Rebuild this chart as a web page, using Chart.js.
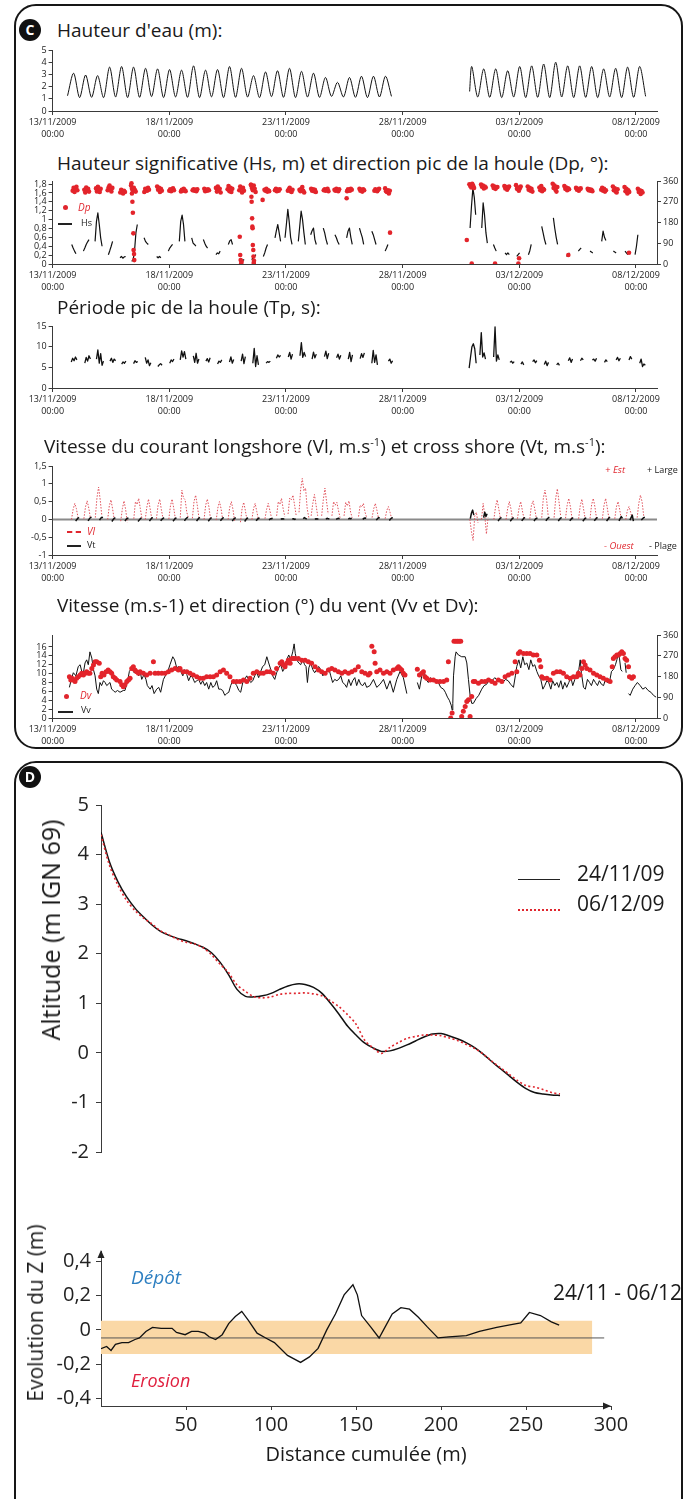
<!DOCTYPE html>
<html lang="fr">
<head>
<meta charset="UTF-8">
<title>Houle, courants, vent et évolution du profil</title>
<script src="https://cdn.jsdelivr.net/npm/chart.js"></script>
<style>
  body { margin: 0; background: #fff; }
  #page { position: relative; width: 683px; height: 1499px; overflow: hidden; font-family: 'Open Sans', 'DejaVu Sans', sans-serif; color: #1a1a1a; }
  .panel { position: absolute; box-sizing: border-box; border: 2px solid #161616; border-radius: 22px; }
  .badge { position: absolute; width: 22px; height: 22px; margin: -11px 0 0 -11px; border-radius: 50%; background: #111; color: #fff; font-weight: 700; font-size: 14px; line-height: 22px; text-align: center; }
  .t { position: absolute; white-space: nowrap; }
  .ttl { font-size: 19px; line-height: 22px; }
  .ttl sup { font-size: 11px; line-height: 0; }
  .red { color: #e0262e; font-style: italic; }
  .small { font-size: 9px; line-height: 12px; }
  .key-dot { position: absolute; width: 5px; height: 5px; border-radius: 50%; background: #e0262e; }
  .key-line { position: absolute; height: 0; border-top: 2px solid #222; }
  .rot { position: absolute; white-space: nowrap; transform: translate(-50%, -50%) rotate(-90deg); }
  .mid { position: absolute; white-space: nowrap; transform: translate(-50%, -50%); }
  canvas { position: absolute; left: 0; }
</style>
</head>
<body>
<div id="page">
  <div class="panel" style="left:14px;top:4px;width:669px;height:745px"></div>
  <div class="badge" style="left:30px;top:30px">C</div>

  <div class="t ttl" style="left:57px;top:19px">Hauteur d'eau (m):</div>
  <canvas id="tide" width="683" height="107" style="top:40px"></canvas>

  <div class="t ttl" style="left:57px;top:152px">Hauteur significative (Hs, m) et direction pic de la houle (Dp, °):</div>
  <canvas id="wave" width="683" height="129" style="top:171px"></canvas>
  <div class="key-dot" style="left:63px;top:205px"></div>
  <div class="t red" style="left:78px;top:201px;font-size:10px;line-height:12px">Dp</div>
  <div class="key-line" style="left:58px;top:223px;width:14px"></div>
  <div class="t small" style="left:81px;top:217px">Hs</div>

  <div class="t ttl" style="left:57px;top:296px">Période pic de la houle (Tp, s):</div>
  <canvas id="period" width="683" height="108" style="top:316px"></canvas>

  <div class="t ttl" style="left:44px;top:435px">Vitesse du courant longshore (Vl, m.s<sup>-1</sup>) et cross shore (Vt, m.s<sup>-1</sup>):</div>
  <canvas id="current" width="683" height="135" style="top:456px"></canvas>
  <div class="key-line" style="left:67px;top:531px;width:14px;border-top:2px dashed #e0262e"></div>
  <div class="t red" style="left:87px;top:525px;font-size:10px;line-height:12px">Vl</div>
  <div class="key-line" style="left:67px;top:545px;width:14px"></div>
  <div class="t small" style="left:87px;top:539px">Vt</div>
  <div class="t red" style="left:605px;top:464px;font-size:9.5px;line-height:12px">+ Est</div>
  <div class="t small" style="left:647px;top:464px">+ Large</div>
  <div class="t red" style="left:604px;top:540px;font-size:9.5px;line-height:12px">- Ouest</div>
  <div class="t small" style="left:649px;top:540px">- Plage</div>

  <div class="t ttl" style="left:57px;top:594px">Vitesse (m.s-1) et direction (°) du vent (Vv et Dv):</div>
  <canvas id="wind" width="683" height="129" style="top:625px"></canvas>
  <div class="key-dot" style="left:64px;top:694px"></div>
  <div class="t red" style="left:80px;top:689px;font-size:10px;line-height:12px">Dv</div>
  <div class="key-line" style="left:58px;top:711px;width:15px"></div>
  <div class="t small" style="left:81px;top:704px">Vv</div>

  <div class="panel" style="left:14px;top:761px;width:669px;height:800px"></div>
  <div class="badge" style="left:30px;top:777px">D</div>

  <canvas id="profile" width="683" height="385" style="top:786px"></canvas>
  <div class="rot" style="left:50px;top:930px;font-size:25px">Altitude (m IGN 69)</div>
  <div class="key-line" style="left:518px;top:879px;width:42px;border-top-width:1.5px"></div>
  <div class="t" style="left:577px;top:860px;font-size:21px;line-height:26px">24/11/09</div>
  <div class="key-line" style="left:518px;top:909px;width:42px;border-top:2px dotted #e0262e"></div>
  <div class="t" style="left:577px;top:890px;font-size:21px;line-height:26px">06/12/09</div>

  <canvas id="evolution" width="683" height="212" style="top:1234px"></canvas>
  <div class="rot" style="left:35px;top:1313px;font-size:21px">Evolution du Z (m)</div>
  <div class="mid" style="left:366px;top:1453px;font-size:20px">Distance cumulée (m)</div>
  <div class="t" style="left:553px;top:1279px;font-size:21px;line-height:26px">24/11 - 06/12</div>
  <div class="t" style="left:131px;top:1265px;font-size:19px;line-height:24px;font-style:italic;color:#2d7fc1">Dépôt</div>
  <div class="t" style="left:131px;top:1368px;font-size:18px;line-height:24px;font-style:italic;color:#e0203f">Erosion</div>
</div>

<script>
// ---- time axis: days since 13/11/2009 00:00 ----
const dateTickDays = [0, 5, 10, 15, 20, 25];
const dateTicks = ['13/11/2009', '18/11/2009', '23/11/2009', '28/11/2009', '03/12/2009', '08/12/2009'];
const dayMax = 25.9;

// ---- water height: one peak per high tide, lows between ----
const tidePeriod = 0.514;
const tideFirstA = [0.64, 1.25];
const tidePeakStartA = 0.9;
const tidePeaksA = [3.1, 2.95, 2.9, 3.6, 3.65, 3.6, 3.5, 3.45, 3.4, 3.35, 3.7, 3.35, 3.4, 3.65, 3.5, 2.9, 3.2, 3.3, 3.5, 3.25, 3.1, 2.75, 2.35, 2.75, 2.85, 2.85, 2.85];
const tideLowsA = [1.1, 1.12, 1.1, 1.15, 1.1, 1.12, 1.18, 1.1, 1.15, 1.12, 1.1, 1.16, 1.1, 1.12, 1.15, 1.1, 1.18, 1.12, 1.1, 1.15, 1.12, 1.2, 1.15, 1.12, 1.1, 1.15, 1.2];
const tideFirstB = [17.87, 1.6];
const tidePeakStartB = 17.96;
const tidePeaksB = [3.65, 3.45, 3.45, 3.3, 3.65, 3.7, 3.85, 4.0, 3.7, 3.7, 3.65, 3.45, 3.5, 3.6, 3.65];
const tideLowsB = [1.15, 1.12, 1.1, 1.15, 1.1, 1.12, 1.1, 1.15, 1.1, 1.12, 1.1, 1.15, 1.1, 1.12, 1.2];
const tideTicks = [0, 1, 2, 3, 4, 5];

// ---- significant wave height (bursts around high tide) ----
const burstStep = 0.06;
const hsStarts = [0.82, 1.32, 1.82, 2.39, 2.89, 3.39, 3.92, 4.46, 4.96, 5.43, 5.96, 6.46, 7.0, 7.53, 8.03, 8.53, 9.03, 9.53, 9.96, 10.53, 11.06, 11.6, 12.1, 12.6, 13.15, 13.68, 14.25,
  17.89, 18.39, 18.89, 19.39, 19.89, 20.39, 20.96, 21.46, 22.03, 22.53, 23.03, 23.53, 24.03, 24.53, 24.96];
const hsBursts = [
  [0.44, 0.36, 0.29, 0.23], [0.29, 0.36, 0.44, 0.5, 0.55], [0.51, 0.96, 1.15, 0.89, 0.59, 0.4], [0.21, 0.3, 0.4, 0.51],
  [0.14, 0.17, 0.13, 0.16, 0.17], [0.06, 0.1, 0.29, 0.7, 0.89], [0.59, 0.51, 0.47, 0.44], [0.17, 0.14, 0.17, 0.14],
  [0.29, 0.36, 0.4, 0.44], [0.51, 0.96, 1.1, 0.89, 0.51], [0.59, 0.47, 0.44, 0.4], [0.55, 0.47, 0.4, 0.36],
  [0.21, 0.25, 0.23, 0.29], [0.44, 0.52, 0.55, 0.44], [0.06, 0.1, 0.08, 0.1], [0.1, 0.14, 0.17, 0.21],
  [0.17, 0.25, 0.36, 0.44], [0.59, 0.75, 0.89, 0.7, 0.51], [0.59, 0.9, 1.23, 0.95, 0.6, 0.44], [0.51, 0.85, 1.19, 1.0, 0.7, 0.44],
  [0.66, 0.75, 0.81, 0.55, 0.44], [0.81, 0.7, 0.55, 0.44], [0.66, 0.59, 0.5, 0.44], [0.59, 0.74, 0.81, 0.6, 0.44],
  [0.81, 0.7, 0.6, 0.44], [0.74, 0.66, 0.55, 0.44], [0.29, 0.36, 0.44],
  [0.81, 1.3, 1.71, 1.5, 1.11], [0.81, 1.38, 1.1, 0.7, 0.47], [0.44, 0.36, 0.29], [0.25, 0.21, 0.25, 0.21],
  [0.17, 0.21, 0.25], [0.21, 0.3, 0.44], [0.85, 0.7, 0.55, 0.44], [1.04, 0.8, 0.6, 0.44],
  [0.17, 0.22, 0.25], [0.29, 0.33, 0.36], [0.29, 0.27, 0.25], [0.51, 0.74, 0.6, 0.53],
  [0.29, 0.27, 0.25], [0.29, 0.25, 0.21], [0.21, 0.4, 0.66]
];
const hsTicks = [0, 0.2, 0.4, 0.6, 0.8, 1, 1.2, 1.4, 1.6, 1.8];

// ---- peak wave direction: a cluster of records per high tide, plus stray values ----
const dpCenters = [0.96, 1.46, 1.96, 2.46, 3.0, 3.46, 4.03, 4.58, 5.1, 5.6, 6.1, 6.6, 7.1, 7.6, 8.1, 8.6, 9.18, 9.63, 10.18, 10.68, 11.18, 11.72, 12.18, 12.72, 13.25, 13.89, 14.35,
  17.96, 18.46, 18.96, 19.46, 19.96, 20.46, 20.96, 21.53, 22.03, 22.53, 23.03, 23.61, 24.11, 24.61, 25.18];
const dpClusters = [
  [318, 330, 312, 325, 335, 320], [322, 310, 332, 318, 326, 314], [328, 315, 335, 320, 312, 326], [320, 332, 340, 325, 315, 330],
  [310, 322, 316, 306, 318, 312], [340, 326, 318, 330, 322, 314], [312, 326, 320, 318, 330, 322], [336, 322, 330, 312, 326, 318],
  [318, 324, 316, 322, 328, 320], [315, 322, 318, 326, 320, 316], [320, 324, 318, 322, 316, 324], [326, 316, 322, 318, 324, 320],
  [330, 314, 336, 320, 326, 310], [324, 338, 316, 330, 312, 326], [320, 336, 328, 310, 330, 318], [344, 330, 320, 340, 326, 312],
  [322, 318, 326, 314, 320, 316], [320, 326, 316, 322, 318, 324], [318, 324, 330, 316, 312, 322], [322, 316, 326, 334, 318, 310],
  [326, 318, 324, 316, 322, 312], [320, 324, 318, 322, 326, 316], [322, 318, 326, 320, 316, 324], [316, 324, 320, 318, 326, 322],
  [326, 318, 322, 314, 324, 320], [318, 324, 320, 316, 322, 326], [328, 316, 312, 320, 306, 318],
  [346, 338, 332, 348, 340, 330], [345, 335, 340, 328, 336, 332], [340, 330, 336, 326, 332, 334], [338, 328, 334, 322, 330, 336],
  [342, 326, 332, 318, 328, 336], [336, 322, 330, 318, 326, 314], [332, 320, 338, 316, 326, 322], [348, 330, 340, 322, 314, 334],
  [338, 326, 332, 320, 328, 324], [330, 322, 326, 318, 324, 328], [326, 320, 324, 318, 322, 316], [322, 330, 318, 326, 314, 320],
  [336, 320, 328, 314, 310, 324], [334, 316, 326, 306, 320, 312], [326, 312, 320, 304, 316, 310]
];
const dpStray = [[3.38, 350], [3.4, 306], [3.42, 270], [3.44, 222], [3.46, 133], [3.47, 61], [3.49, 43], [3.5, 17],
  [8.02, 118], [8.04, 39], [8.06, 17], [8.08, 2], [8.1, 10],
  [8.5, 343], [8.52, 292], [8.53, 270], [8.55, 198], [8.56, 162], [8.57, 155], [8.58, 82], [8.6, 61], [8.61, 32], [8.62, 5], [8.63, 14],
  [9.0, 278], [12.6, 285], [14.46, 136], [17.75, 104], [17.96, 2], [18.96, 2], [19.96, 2], [19.99, 25], [22.1, 39], [24.7, 49]];
const dirTicks = [0, 90, 180, 270, 360];

// ---- peak wave period ----
const tpStarts = [0.8, 1.38, 1.88, 2.46, 2.96, 3.47, 3.97, 4.51, 5.02, 5.47, 6.03, 6.57, 7.07, 7.58, 8.08, 8.58, 9.15, 9.59, 10.1, 10.6, 11.12, 11.65, 12.17, 12.67, 13.18, 13.68, 14.39,
  17.85, 18.31, 18.9, 19.6, 20.07, 20.57, 21.07, 21.6, 22.1, 22.62, 23.13, 23.65, 24.15, 24.7, 25.16];
const tpBursts = [
  [6.3, 7.2, 6.6, 7.5, 6.8], [6.0, 7.4, 6.5, 7.8, 7.0], [7.0, 9.2, 6.0, 8.3, 5.5, 6.5], [6.5, 7.2, 6.2, 7.0, 6.6],
  [5.8, 6.3, 6.0, 6.5], [5.9, 6.6, 6.2, 6.4], [7.4, 6.0, 6.8, 5.4, 6.1], [5.2, 5.6, 5.9, 5.5],
  [6.0, 6.8, 6.4, 7.0], [6.8, 9.0, 7.5, 8.8, 7.0], [7.8, 6.2, 8.4, 6.0, 7.0], [6.5, 7.1, 6.3, 7.3],
  [5.8, 6.5, 6.2, 6.8], [6.3, 7.5, 6.0, 6.9], [6.5, 8.2, 5.9, 7.6], [6.0, 9.6, 5.2, 7.8, 5.6],
  [6.0, 6.4, 6.2, 6.5], [7.2, 8.0, 7.5, 7.9], [7.5, 8.6, 7.0, 8.2], [7.8, 11.0, 7.4, 8.6, 7.6],
  [7.0, 8.7, 7.3, 8.2], [7.6, 8.9, 7.1, 8.4], [7.3, 8.2, 7.0, 7.9], [7.0, 8.6, 6.4, 8.0],
  [7.1, 8.3, 7.4, 8.5], [6.0, 9.1, 6.2, 8.0, 5.6], [6.5, 7.0, 6.0, 6.6],
  [4.8, 7.5, 10.0, 10.7, 9.5, 6.0], [8.0, 13.4, 7.5, 8.5, 7.0], [7.5, 14.8, 6.5, 8.0, 6.8], [6.2, 6.5, 6.0, 6.4],
  [5.8, 6.3, 5.6], [6.4, 6.8, 6.1, 6.6], [5.7, 6.5, 5.4, 6.2], [5.6, 6.0, 5.5],
  [6.6, 7.3, 6.2, 7.0], [6.6, 7.2, 6.8], [6.8, 7.0, 6.5, 7.2], [6.2, 6.8, 6.4],
  [6.8, 7.4, 6.6, 7.2], [6.8, 7.6, 7.0], [6.0, 7.0, 5.2, 5.8, 5.5]
];
const tpTicks = [0, 5, 10, 15];

// ---- longshore (Vl) and cross-shore (Vt) currents ----
const vlStep = 0.07;
const vlStarts = [0.81, 1.34, 1.83, 2.36, 2.92, 3.48, 3.97, 4.45, 4.98, 5.47, 5.99, 6.49, 7.01, 7.52, 8.05, 8.54, 9.1, 9.6, 10.09, 10.56, 11.08, 11.53, 11.97, 12.49, 13.11, 13.69, 14.25,
  17.88, 18.38, 18.91, 19.43, 19.92, 20.45, 20.96, 21.49, 21.98, 22.54, 23.03, 23.56, 24.09, 24.56, 25.05];
const vlBursts = [
  [0.0, 0.28, 0.45, 0.3, 0.05], [0.02, 0.35, 0.52, 0.32, 0.04], [0.05, 0.6, 0.91, 0.55, 0.1], [0.0, 0.38, 0.55, 0.3, 0.0],
  [-0.05, 0.3, 0.52, 0.28, -0.08], [0.02, 0.5, 0.42, 0.59, 0.3, 0.02], [0.0, 0.35, 0.57, 0.3, 0.02], [0.02, 0.4, 0.57, 0.28, 0.03],
  [0.01, 0.38, 0.57, 0.32, 0.02], [0.05, 0.82, 0.6, 0.55, 0.2, 0.04], [0.03, 0.5, 0.68, 0.4, 0.05], [0.0, 0.4, 0.57, 0.35, 0.0],
  [-0.02, 0.32, 0.5, 0.3, 0.0], [0.0, 0.34, 0.5, 0.28, -0.05], [-0.08, 0.3, 0.48, 0.25, -0.02], [0.0, 0.3, 0.45, 0.22, 0.0],
  [0.02, 0.28, 0.45, 0.25, 0.05], [0.1, 0.5, 0.42, 0.59, 0.3, 0.08], [0.15, 0.6, 0.55, 0.68, 0.4, 0.1], [0.2, 0.85, 1.15, 0.8, 0.88, 0.3, 0.05],
  [0.1, 0.45, 0.7, 0.4, 0.1], [0.1, 0.55, 0.88, 0.5, 0.15], [0.1, 0.5, 0.4, 0.48, 0.25, 0.05], [0.1, 0.48, 0.38, 0.52, 0.2, 0.05],
  [0.08, 0.4, 0.35, 0.45, 0.2, 0.05], [0.05, 0.3, 0.45, 0.25, 0.02], [0.02, 0.25, 0.36, 0.2, 0.02],
  [0.0, -0.35, -0.59, 0.1, 0.2, -0.1], [0.0, 0.45, 0.1, -0.41, 0.05], [0.0, 0.35, 0.55, 0.3, 0.02], [0.0, 0.3, 0.5, 0.3, 0.0],
  [0.02, 0.32, 0.5, 0.25, 0.02], [0.02, 0.4, 0.52, 0.3, 0.03], [0.05, 0.6, 0.82, 0.55, 0.08], [0.05, 0.6, 0.86, 0.5, 0.1],
  [0.03, 0.4, 0.59, 0.35, 0.02], [0.02, 0.38, 0.57, 0.3, 0.03], [0.03, 0.42, 0.59, 0.35, 0.02], [0.02, 0.4, 0.59, 0.32, 0.03],
  [0.02, 0.35, 0.5, 0.28, 0.0], [0.0, 0.25, 0.36, 0.2, 0.02], [0.05, 0.45, 0.68, 0.5, 0.1]
];
const vtStep = 0.05;
const vtStarts = [0.99, 1.52, 2.01, 2.54, 3.1, 3.66, 4.15, 4.63, 5.16, 5.65, 6.17, 6.67, 7.19, 7.7, 8.23, 8.72, 9.28, 9.78, 10.27, 10.74, 11.24, 11.71, 12.15, 12.67, 13.29, 13.87, 14.43,
  17.9, 18.47, 19.09, 19.61, 20.1, 20.63, 21.14, 21.67, 22.16, 22.72, 23.21, 23.74, 24.27, 24.74, 25.23];
const vtBursts = [
  [-0.05, 0.0, 0.04, 0.05], [-0.04, 0.01, 0.05, 0.06], [-0.02, 0.03, 0.06, 0.05], [-0.06, -0.01, 0.03, 0.05],
  [-0.05, 0.0, 0.03, 0.04], [-0.06, -0.02, 0.02, 0.04], [-0.05, 0.0, 0.04, 0.05], [-0.04, 0.0, 0.03, 0.05],
  [-0.05, -0.01, 0.03, 0.04], [-0.04, 0.01, 0.04, 0.06], [-0.05, 0.0, 0.04, 0.05], [-0.05, -0.01, 0.03, 0.05],
  [-0.04, 0.0, 0.04, 0.05], [-0.05, 0.0, 0.03, 0.05], [-0.06, -0.01, 0.03, 0.04], [-0.04, 0.0, 0.03, 0.04],
  [-0.02, 0.02, 0.02, 0.03], [0.0, 0.02, 0.01, 0.02], [0.01, 0.02, 0.0, 0.01], [0.02, 0.05, 0.03, 0.01],
  [0.0, 0.02, 0.01, 0.02], [0.01, 0.03, 0.02, 0.02], [0.0, 0.02, 0.03, 0.02], [0.01, 0.03, 0.02, 0.03],
  [0.0, 0.03, 0.04, 0.03], [-0.02, 0.02, 0.05, 0.04], [-0.03, 0.01, 0.04, 0.05],
  [0.02, 0.18, 0.26, 0.12], [0.05, 0.2, 0.08, 0.16], [-0.05, 0.0, 0.04, 0.05], [-0.05, -0.01, 0.03, 0.05],
  [-0.04, 0.0, 0.04, 0.05], [-0.05, 0.0, 0.03, 0.04], [-0.04, 0.01, 0.04, 0.06], [-0.05, 0.0, 0.04, 0.05],
  [-0.04, 0.0, 0.03, 0.05], [-0.05, -0.01, 0.03, 0.04], [-0.04, 0.0, 0.04, 0.05], [-0.05, 0.0, 0.04, 0.06],
  [-0.04, 0.02, 0.08, 0.03], [-0.02, 0.05, 0.12, -0.05], [-0.02, 0.02, 0.05, 0.06]
];
const curTicks = [-1, -0.5, 0, 0.5, 1, 1.5];

// ---- wind speed (Vv) and direction (Dv) ----
const windSpeed = [[0.72, 6.9], [0.82, 9.1], [0.89, 10.2], [1.0, 9.5], [1.1, 11.6], [1.18, 12.0], [1.25, 10.5], [1.32, 10.2], [1.39, 12.4], [1.46, 13.1], [1.53, 12.0], [1.6, 14.9], [1.68, 13.5], [1.75, 10.9], [1.82, 9.5], [1.89, 6.5], [1.96, 5.5], [2.03, 8.0], [2.1, 7.3], [2.18, 8.4], [2.25, 8.0], [2.32, 7.3], [2.46, 8.0], [2.53, 6.5], [2.6, 6.2], [2.68, 5.8], [2.78, 6.2], [2.89, 5.8], [3.03, 6.2], [3.1, 6.2],
  [3.2, 8.0], [3.29, 10.5], [3.39, 11.3], [3.49, 10.2], [3.6, 10.5], [3.69, 9.5], [3.75, 10.5], [3.82, 8.7], [3.92, 9.8], [4.0, 8.7], [4.06, 7.3], [4.18, 6.5], [4.26, 7.3], [4.35, 5.5], [4.46, 6.5], [4.55, 6.9], [4.63, 5.8], [4.75, 8.7], [4.83, 9.5], [4.92, 10.2], [5.03, 12.0], [5.15, 13.8], [5.23, 13.1], [5.32, 11.3], [5.4, 11.6], [5.49, 10.5], [5.58, 9.5], [5.66, 10.9], [5.75, 9.8], [5.83, 8.4],
  [5.92, 9.5], [6.0, 9.1], [6.09, 8.0], [6.18, 8.4], [6.26, 8.7], [6.35, 7.6], [6.43, 8.4], [6.52, 7.3], [6.6, 8.0], [6.69, 6.5], [6.78, 8.0], [6.86, 6.9], [6.95, 7.3], [7.03, 8.4], [7.12, 6.5], [7.2, 6.5], [7.29, 6.2], [7.38, 5.1], [7.46, 5.5], [7.55, 5.8], [7.63, 7.3], [7.72, 8.4], [7.8, 8.0], [7.89, 7.3], [7.98, 6.2], [8.06, 5.8], [8.15, 8.0], [8.23, 8.7], [8.32, 9.5], [8.4, 8.7],
  [8.49, 8.0], [8.58, 8.4], [8.66, 9.5], [8.75, 10.2], [8.83, 9.1], [8.92, 10.5], [9.0, 11.6], [9.09, 12.0], [9.18, 13.8], [9.26, 12.4], [9.35, 10.9], [9.43, 9.5], [9.52, 8.7], [9.6, 10.2], [9.69, 11.3], [9.78, 12.0], [9.86, 10.5], [9.95, 11.3], [10.03, 13.1], [10.12, 14.2], [10.2, 13.1], [10.29, 14.9], [10.35, 16.7], [10.4, 14.5], [10.46, 13.1], [10.55, 12.4], [10.63, 12.0], [10.72, 13.1], [10.8, 12.0], [10.86, 11.6],
  [10.92, 8.0], [10.98, 11.3], [11.06, 12.4], [11.15, 10.9], [11.23, 10.2], [11.32, 10.9], [11.4, 11.6], [11.49, 10.9], [11.58, 9.5], [11.66, 10.2], [11.75, 10.5], [11.83, 11.3], [11.92, 9.5], [12.0, 8.0], [12.09, 8.7], [12.18, 8.4], [12.26, 8.7], [12.35, 9.5], [12.43, 8.0], [12.52, 7.6], [12.6, 6.9], [12.69, 8.7], [12.78, 7.3], [12.86, 8.4], [12.95, 9.1], [13.03, 7.3], [13.12, 8.7], [13.2, 7.6], [13.29, 7.3], [13.38, 8.0],
  [13.46, 6.9], [13.6, 7.3], [13.75, 8.7], [13.89, 6.9], [14.03, 7.6], [14.18, 8.7], [14.32, 6.5], [14.46, 8.4], [14.6, 5.8], [14.75, 8.7], [14.89, 10.5], [15.03, 9.1], [15.18, 5.5], [15.4, null], [15.63, 8.0], [15.72, 6.5], [15.82, 9.5], [15.92, 10.5], [16.0, 8.7], [16.1, 8.0], [16.2, 9.1], [16.32, 8.4], [16.43, 8.7], [16.53, 8.0], [16.63, 6.9], [16.75, 6.5], [16.83, 5.8], [16.92, 4.7], [17.0, 4.0], [17.08, 2.9],
  [17.12, 1.8], [17.15, 3.3], [17.18, 9.5], [17.25, 13.8], [17.29, 14.9], [17.39, 14.2], [17.53, 13.8], [17.68, 13.8], [17.75, 12.4], [17.82, 8.7], [17.89, 5.1], [17.96, 3.3], [18.03, 3.3], [18.15, 4.4], [18.26, 5.1], [18.39, 6.5], [18.49, 7.3], [18.6, 7.6], [18.72, 8.7], [18.83, 8.4], [18.95, 9.1], [19.06, 8.4], [19.18, 8.7], [19.29, 8.0], [19.41, 8.7], [19.52, 8.4], [19.63, 7.6], [19.75, 6.9], [19.83, 9.5], [19.89, 11.6],
  [19.98, 13.1], [20.06, 11.3], [20.15, 13.8], [20.23, 12.0], [20.32, 12.4], [20.41, 10.9], [20.49, 13.1], [20.58, 11.6], [20.66, 12.0], [20.75, 10.5], [20.83, 9.5], [20.92, 8.7], [21.01, 6.5], [21.09, 7.3], [21.18, 8.4], [21.26, 8.0], [21.35, 6.5], [21.43, 8.4], [21.52, 7.3], [21.61, 8.0], [21.69, 6.9], [21.78, 8.4], [21.86, 6.5], [21.95, 8.0], [22.03, 6.9], [22.12, 8.0], [22.21, 9.1], [22.29, 7.3], [22.38, 8.7], [22.46, 10.2],
  [22.55, 10.9], [22.61, 13.1], [22.66, 10.2], [22.75, 6.9], [22.83, 6.5], [22.92, 8.7], [23.01, 8.0], [23.09, 7.3], [23.18, 8.7], [23.26, 8.0], [23.35, 7.3], [23.43, 8.4], [23.52, 7.6], [23.61, 7.3], [23.69, 8.7], [23.78, 8.0], [23.86, 8.0], [23.95, 10.5], [24.03, 10.9], [24.12, 12.0], [24.18, 13.1], [24.24, 14.5], [24.29, 13.5], [24.35, 10.9], [24.41, 10.5], [24.47, null], [24.53, 12.4], [24.58, 10.2], [24.62, null], [24.68, 5.5],
  [24.75, 5.1], [24.86, 6.5], [24.96, 7.3], [25.06, 8.0], [25.18, 7.3], [25.29, 6.5], [25.41, 6.9], [25.52, 6.2], [25.64, 5.8], [25.75, 5.1], [25.86, 4.7]];
const windDir = [[0.72, 179], [0.78, 165], [0.83, 172], [0.89, 165], [0.96, 158], [1.03, 172], [1.1, 179], [1.18, 187], [1.25, 194], [1.32, 187], [1.39, 194], [1.46, 201], [1.53, 194], [1.6, 194], [1.68, 215], [1.75, 230], [1.82, 244], [1.89, 244], [2.0, 237], [2.06, 179], [2.12, 194], [2.2, 187], [2.29, 201], [2.38, 208], [2.46, 201], [2.53, 194], [2.6, 179], [2.68, 172], [2.75, 165], [2.89, 158],
  [2.96, 144], [3.03, 136], [3.1, 144], [3.18, 158], [3.25, 165], [3.32, 172], [3.39, 215], [3.46, 222], [3.53, 208], [3.6, 201], [3.68, 194], [3.75, 201], [3.89, 194], [4.03, 187], [4.18, 194], [4.32, 244], [4.39, 194], [4.53, 194], [4.68, 194], [4.82, 194], [4.96, 201], [5.1, 208], [5.25, 215], [5.39, 208], [5.46, 215], [5.6, 201], [5.75, 201], [5.89, 194], [6.03, 187], [6.18, 179],
  [6.32, 172], [6.46, 172], [6.6, 179], [6.75, 179], [6.89, 179], [7.03, 187], [7.18, 201], [7.32, 208], [7.46, 194], [7.6, 179], [7.75, 158], [7.89, 158], [8.03, 158], [8.18, 165], [8.32, 158], [8.46, 172], [8.6, 194], [8.75, 201], [8.89, 194], [9.03, 194], [9.18, 201], [9.32, 201], [9.46, 194], [9.6, 215], [9.75, 237], [9.82, 244], [9.89, 230], [9.96, 222], [10.03, 237], [10.1, 251],
  [10.18, 237], [10.25, 258], [10.32, 258], [10.39, 258], [10.53, 258], [10.68, 251], [10.82, 251], [10.96, 244], [11.1, 237], [11.25, 222], [11.39, 208], [11.53, 201], [11.68, 194], [11.82, 208], [11.96, 215], [12.1, 208], [12.25, 201], [12.39, 194], [12.53, 201], [12.68, 194], [12.82, 201], [12.96, 208], [13.1, 222], [13.25, 201], [13.39, 194], [13.53, 187], [13.6, 194], [13.68, 311], [13.78, 287], [13.82, 237],
  [13.89, 201], [14.03, 208], [14.18, 194], [14.32, 201], [14.46, 194], [14.6, 208], [14.75, 215], [14.82, 222], [14.89, 215], [14.96, 208], [15.03, 194], [15.1, 187], [15.63, 211], [15.72, 187], [15.82, 194], [15.89, 201], [15.96, 179], [16.03, 172], [16.18, 165], [16.32, 165], [16.46, 158], [16.6, 158], [16.75, 158], [16.89, 165], [16.96, 244], [17.06, 0], [17.12, 22], [17.2, 333], [17.28, 333], [17.35, 333],
  [17.42, 333], [17.49, 333], [17.53, 7], [17.6, 29], [17.68, 50], [17.75, 72], [17.82, 79], [17.89, 7], [17.96, 93], [18.03, 158], [18.1, 158], [18.25, 151], [18.39, 158], [18.53, 158], [18.68, 165], [18.82, 158], [18.96, 151], [19.1, 165], [19.25, 158], [19.39, 179], [19.53, 187], [19.68, 194], [19.82, 244], [19.89, 201], [19.96, 280], [20.03, 287], [20.18, 280], [20.32, 280], [20.46, 280], [20.6, 273],
  [20.75, 273], [20.86, 251], [20.92, 222], [20.96, 179], [21.03, 172], [21.18, 172], [21.32, 165], [21.46, 194], [21.6, 201], [21.75, 201], [21.89, 194], [22.03, 179], [22.18, 172], [22.32, 179], [22.46, 179], [22.53, 194], [22.6, 187], [22.68, 215], [22.75, 244], [22.82, 230], [22.89, 215], [23.03, 208], [23.18, 194], [23.32, 187], [23.46, 179], [23.6, 172], [23.75, 165], [23.89, 158], [23.98, 222], [24.03, 258],
  [24.1, 266], [24.18, 273], [24.25, 273], [24.32, 280], [24.39, 287], [24.46, 280], [24.53, 258], [24.6, 251], [24.68, 222], [24.72, 179], [24.82, 172], [24.89, 179]];
const windTicks = [0, 2, 4, 6, 8, 10, 12, 14, 16];

// ---- beach profile, distance in m ----
const profDist = [0, 5, 10, 15, 20, 25, 30, 35, 40, 45, 50, 55, 60, 65, 70, 75, 80, 85, 90, 95, 100, 105, 110, 115, 120, 125, 130, 135, 140, 145, 150, 155, 160, 165, 170, 175, 180, 185, 190, 195, 200, 205, 210, 215, 220, 225, 230, 235, 240, 245, 250, 255, 260, 265, 270];
const prof2411 = [4.45, 3.85, 3.45, 3.15, 2.92, 2.74, 2.58, 2.45, 2.37, 2.31, 2.26, 2.2, 2.13, 2.02, 1.83, 1.58, 1.28, 1.14, 1.13, 1.15, 1.2, 1.28, 1.35, 1.39, 1.38, 1.32, 1.2, 1.0, 0.78, 0.54, 0.36, 0.2, 0.1, 0.03, 0.04, 0.09, 0.16, 0.24, 0.32, 0.38, 0.39, 0.34, 0.28, 0.2, 0.1, -0.03, -0.18, -0.32, -0.46, -0.6, -0.72, -0.8, -0.83, -0.85, -0.86];
const prof0612 = [4.4, 3.78, 3.38, 3.08, 2.87, 2.72, 2.6, 2.46, 2.38, 2.29, 2.23, 2.2, 2.12, 1.98, 1.79, 1.62, 1.37, 1.24, 1.13, 1.11, 1.13, 1.18, 1.2, 1.2, 1.21, 1.19, 1.15, 1.05, 0.93, 0.77, 0.58, 0.26, 0.1, -0.01, 0.11, 0.21, 0.29, 0.33, 0.36, 0.36, 0.345, 0.3, 0.245, 0.167, 0.085, -0.03, -0.17, -0.3, -0.43, -0.56, -0.66, -0.69, -0.74, -0.8, -0.83];
const altTicks = [-2, -1, 0, 1, 2, 3, 4, 5];

// ---- elevation change 24/11 -> 06/12 ----
const dzDist = [0, 3.3, 5.9, 8.5, 12.3, 16.2, 20, 22.6, 26.4, 30.3, 35.4, 41.8, 44.4, 49.5, 53.3, 57.2, 61, 63.6, 67.4, 71.3, 75.1, 79, 82.8, 86.7, 91.8, 96.9, 102, 109.7, 117.4, 122.6, 127.7, 132.8, 137.9, 143, 148.2, 150.8, 153.3, 158.5, 163.6, 166.2, 171.3, 176.4, 181.5, 186.7, 191.8, 198.2, 204.6, 214.9, 222.6, 232.8, 240.5, 246.9, 252, 258.5, 264.9, 269.5];
const dzVals = [-0.11, -0.097, -0.12, -0.084, -0.074, -0.074, -0.056, -0.047, -0.009, 0.015, 0.009, 0.009, -0.015, -0.028, -0.009, -0.009, -0.019, -0.04, -0.056, -0.028, 0.037, 0.078, 0.108, 0.056, -0.019, -0.047, -0.074, -0.149, -0.19, -0.158, -0.108, 0, 0.093, 0.205, 0.264, 0.205, 0.084, 0.019, -0.047, 0, 0.093, 0.13, 0.121, 0.074, 0.019, -0.047, -0.041, -0.033, -0.009, 0.015, 0.03, 0.041, 0.102, 0.084, 0.047, 0.028];
const dzMean = -0.047;
const bandTop = 0.054, bandLow = -0.141, bandEnd = 289;
const dzTicks = [-0.4, -0.2, 0, 0.2, 0.4];
const distTicks = [50, 100, 150, 200, 250, 300];

// ---- helpers ----
const FONT = "'Open Sans', 'DejaVu Sans', sans-serif";
const RED = '#e3242b';
const AXIS = '#3a3a3a';
Chart.defaults.font.family = FONT;
Chart.defaults.color = '#222';

const plain = v => String(v);
const comma = v => String(Math.round(v * 100) / 100).replace('.', ',');

// consecutive bursts of records, broken by a gap after each one
function burstPoints(starts, bursts, step) {
  const pts = [];
  starts.forEach((s, i) => {
    bursts[i].forEach((v, k) => pts.push({ x: s + k * step, y: v }));
    pts.push({ x: s + bursts[i].length * step, y: null });
  });
  return pts;
}
function clusterPoints(centers, clusters, step) {
  const pts = [];
  centers.forEach((c, i) => {
    const n = clusters[i].length;
    clusters[i].forEach((v, k) => pts.push({ x: c + (k - (n - 1) / 2) * step, y: v }));
  });
  return pts;
}
function tidePoints(first, peakStart, peaks, lows) {
  const pts = [{ x: first[0], y: first[1] }];
  peaks.forEach((p, i) => {
    pts.push({ x: peakStart + i * tidePeriod, y: p });
    pts.push({ x: peakStart + (i + 0.5) * tidePeriod, y: lows[i] });
  });
  return pts;
}
const pairs = arr => arr.map(([x, y]) => ({ x, y }));

const tickFont = { family: FONT, size: 9, lineHeight: 1.3 };

function dayScale() {
  return {
    type: 'linear', min: 0, max: dayMax,
    afterBuildTicks: s => { s.ticks = dateTickDays.map(v => ({ value: v })); },
    afterFit: s => { s.height = 36; },
    ticks: { font: tickFont, color: '#222', padding: 2, maxRotation: 0, autoSkip: false,
      callback: v => [dateTicks[dateTickDays.indexOf(v)], '00:00'] },
    grid: { drawOnChartArea: false, tickLength: 4, color: AXIS },
    border: { color: AXIS }
  };
}
function valueScale(pos, min, max, tickVals, fmt, width) {
  return {
    type: 'linear', position: pos, min, max,
    afterBuildTicks: s => { s.ticks = tickVals.map(v => ({ value: v })); },
    afterFit: s => { s.width = width; },
    ticks: { font: tickFont, color: '#222', padding: 2, autoSkip: false, callback: fmt },
    grid: { drawOnChartArea: false, tickLength: 4, color: AXIS },
    border: { color: AXIS }
  };
}
function timeChart(id, datasets, y, y2) {
  const scales = { x: dayScale(), y };
  if (y2) scales.y2 = y2;
  return new Chart(document.getElementById(id), {
    type: 'line',
    data: { datasets },
    options: {
      responsive: false, animation: false, devicePixelRatio: 1,
      layout: { padding: { top: 10, right: y2 ? 0 : 26, left: 0, bottom: 0 } },
      plugins: { legend: { display: false }, tooltip: { enabled: false } },
      elements: { point: { radius: 0 }, line: { borderJoinStyle: 'round' } },
      scales
    }
  });
}
const LEFT_W = 52.6, RIGHT_W = 26;

// water height
timeChart('tide', [
  { data: tidePoints(tideFirstA, tidePeakStartA, tidePeaksA, tideLowsA), borderColor: '#111', borderWidth: 1, tension: 0.3 },
  { data: tidePoints(tideFirstB, tidePeakStartB, tidePeaksB, tideLowsB), borderColor: '#111', borderWidth: 1, tension: 0.3 }
], valueScale('left', 0, 5, tideTicks, plain, LEFT_W));

// Hs and Dp
timeChart('wave', [
  { data: clusterPoints(dpCenters, dpClusters, 0.04).concat(pairs(dpStray)), showLine: false, yAxisID: 'y2',
    pointRadius: 2.3, pointBackgroundColor: RED, pointBorderWidth: 0 },
  { data: burstPoints(hsStarts, hsBursts, burstStep), borderColor: '#111', borderWidth: 1.2, yAxisID: 'y' }
], valueScale('left', 0, 1.87, hsTicks, comma, LEFT_W), valueScale('right', 0, 360, dirTicks, plain, RIGHT_W));

// Tp
timeChart('period', [
  { data: burstPoints(tpStarts, tpBursts, burstStep), borderColor: '#111', borderWidth: 1.3 }
], valueScale('left', 0, 15, tpTicks, plain, LEFT_W));

// currents
timeChart('current', [
  { data: burstPoints(vtStarts, vtBursts, vtStep), borderColor: '#111', borderWidth: 1.5 },
  { data: burstPoints(vlStarts, vlBursts, vlStep), borderColor: '#e0505a', borderWidth: 1, borderDash: [1.5, 1.5] },
  { data: [{ x: 0, y: 0 }, { x: dayMax, y: 0 }], borderColor: '#8a8a8a', borderWidth: 2 }
], valueScale('left', -1, 1.5, curTicks, comma, LEFT_W));

// wind
timeChart('wind', [
  { data: pairs(windDir), showLine: false, yAxisID: 'y2', pointRadius: 2.5, pointBackgroundColor: RED, pointBorderWidth: 0 },
  { data: pairs(windSpeed), borderColor: '#111', borderWidth: 1, yAxisID: 'y' }
], valueScale('left', 0, 18.7, windTicks, plain, LEFT_W), valueScale('right', 0, 360, dirTicks, plain, RIGHT_W));

// ---- panel D ----
const bigTicks = (size, pad) => ({ font: { family: FONT, size }, color: '#222', padding: pad, autoSkip: false });

new Chart(document.getElementById('profile'), {
  type: 'line',
  data: { datasets: [
    { data: profDist.map((d, i) => ({ x: d, y: prof0612[i] })), borderColor: '#e0262e', borderWidth: 1.6, borderDash: [2, 2.5], tension: 0.3 },
    { data: profDist.map((d, i) => ({ x: d, y: prof2411[i] })), borderColor: '#111', borderWidth: 1.5, tension: 0.3 }
  ] },
  options: {
    responsive: false, animation: false, devicePixelRatio: 1,
    layout: { padding: { top: 12, bottom: 12, left: 40, right: 72 } },
    plugins: { legend: { display: false }, tooltip: { enabled: false } },
    elements: { point: { radius: 0 } },
    scales: {
      x: { type: 'linear', min: 0, max: 300, display: false },
      y: {
        type: 'linear', min: -2, max: 5,
        afterBuildTicks: s => { s.ticks = altTicks.map(v => ({ value: v })); },
        afterFit: s => { s.width = 61; },
        ticks: { ...bigTicks(20, 7), callback: plain },
        grid: { drawOnChartArea: false, tickLength: 5, color: AXIS },
        border: { color: AXIS }
      }
    }
  }
});

// arrow heads on the ends of both axes
const axisArrows = {
  id: 'axisArrows',
  afterDraw(chart) {
    const { ctx, chartArea: a } = chart;
    ctx.save();
    ctx.fillStyle = '#222';
    ctx.beginPath();
    ctx.moveTo(a.right, a.bottom);
    ctx.lineTo(a.right - 8, a.bottom - 3.5);
    ctx.lineTo(a.right - 8, a.bottom + 3.5);
    ctx.fill();
    ctx.beginPath();
    ctx.moveTo(a.left, a.top - 1);
    ctx.lineTo(a.left - 3.5, a.top + 7);
    ctx.lineTo(a.left + 3.5, a.top + 7);
    ctx.fill();
    ctx.restore();
  }
};

new Chart(document.getElementById('evolution'), {
  type: 'line',
  data: { datasets: [
    { data: dzDist.map((d, i) => ({ x: d, y: dzVals[i] })), borderColor: '#111', borderWidth: 1.3, order: 1 },
    { data: [{ x: 0, y: dzMean }, { x: 296, y: dzMean }], borderColor: '#555', borderWidth: 1, order: 2 },
    { data: [{ x: 0, y: bandTop }, { x: bandEnd, y: bandTop }], borderWidth: 0, backgroundColor: '#fad8a6',
      fill: { value: bandLow }, order: 3 }
  ] },
  options: {
    responsive: false, animation: false, devicePixelRatio: 1,
    layout: { padding: { top: 10, bottom: 0, left: 40, right: 72 } },
    plugins: { legend: { display: false }, tooltip: { enabled: false } },
    elements: { point: { radius: 0 } },
    scales: {
      x: {
        type: 'linear', min: 0, max: 300,
        afterBuildTicks: s => { s.ticks = distTicks.map(v => ({ value: v })); },
        afterFit: s => { s.height = 40; },
        ticks: { ...bigTicks(20, 3), callback: plain, maxRotation: 0 },
        grid: { drawOnChartArea: false, tickLength: 4, color: AXIS },
        border: { color: AXIS }
      },
      y: {
        type: 'linear', min: -0.445, max: 0.4615,
        afterBuildTicks: s => { s.ticks = dzTicks.map(v => ({ value: v })); },
        afterFit: s => { s.width = 61; },
        ticks: { ...bigTicks(20, 5), callback: comma },
        grid: { drawOnChartArea: false, tickLength: 5, color: AXIS },
        border: { color: AXIS }
      }
    }
  },
  plugins: [axisArrows]
});
</script>
</body>
</html>
